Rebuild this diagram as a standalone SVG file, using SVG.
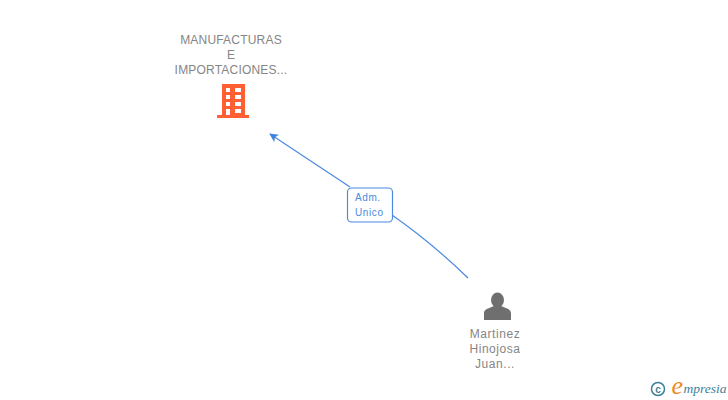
<svg xmlns="http://www.w3.org/2000/svg" width="728" height="400" viewBox="0 0 728 400">
<style>
text{font-family:"Liberation Sans",Arial,sans-serif}
.n{font-size:12px;fill:#858585;text-anchor:middle;letter-spacing:.2px}
.p{letter-spacing:.55px}
.l{font-size:10px;fill:#4a8ae0;letter-spacing:.6px}
.c{fill:none;stroke:#4a8ae0;stroke-width:1.2}
.s{font-family:"Liberation Serif",serif;font-style:italic}
</style>
<defs><marker id="a" viewBox="0 0 10 10" refX="9" refY="5" markerWidth="9" markerHeight="9" orient="auto-start-reverse" markerUnits="userSpaceOnUse"><path d="M0 0L10 5L0 10L2.5 5Z" fill="#3f83dc"/></marker></defs>
<rect width="728" height="400" fill="#fff"/>
<g id="connectors">
<path class="c" d="M350 187L270 134" marker-end="url(#a)"/>
<path class="c" d="M392 215Q432 243 468 278"/>
</g>
<g id="company">
<text class="n" x="231" y="44">MANUFACTURAS</text>
<text class="n" x="231" y="59">E</text>
<text class="n" x="231" y="74">IMPORTACIONES...</text>
<path fill="#ff5f33" fill-rule="evenodd" d="M222 84H245V115H249V118H217V115H222ZM226 88V92H230V88ZM235 88V92H241V88ZM226 95V99H230V95ZM235 95V99H241V95ZM226 102V106H230V102ZM235 102V106H241V102ZM226 109V115H230V109ZM235 109V113H241V109Z"/>
</g>
<g id="label">
<rect x="347.500" y="188" width="45" height="34" rx="4" fill="#fff" stroke="#4a8ae0" stroke-width="1.200"/>
<text class="l" x="355" y="201">Adm.</text>
<text class="l" x="355" y="216">Unico</text>
</g>
<g id="person">
<ellipse cx="497.500" cy="300" rx="6.500" ry="7.500" fill="#6f6f6f"/>
<path fill="#6f6f6f" d="M484 320V313Q484 310 488 308.500L494 306H501L507 308.500Q511 310 511 313V320Z"/>
<text class="n p" x="495" y="338">Martinez</text>
<text class="n p" x="495" y="353">Hinojosa</text>
<text class="n p" x="495" y="368">Juan...</text>
</g>
<g id="logo">
<circle cx="658" cy="389" r="6.500" fill="none" stroke="#3d7f99" stroke-width="1.500"/>
<text x="658" y="392.500" font-size="10" font-weight="bold" fill="#3d7f99" text-anchor="middle">c</text>
<text class="s" x="671.500" y="394" font-size="26" fill="#f08a1d">e</text>
<text class="s" x="683.500" y="393" font-size="13.500" fill="#3d7f99">mpresia</text>
</g>
</svg>
